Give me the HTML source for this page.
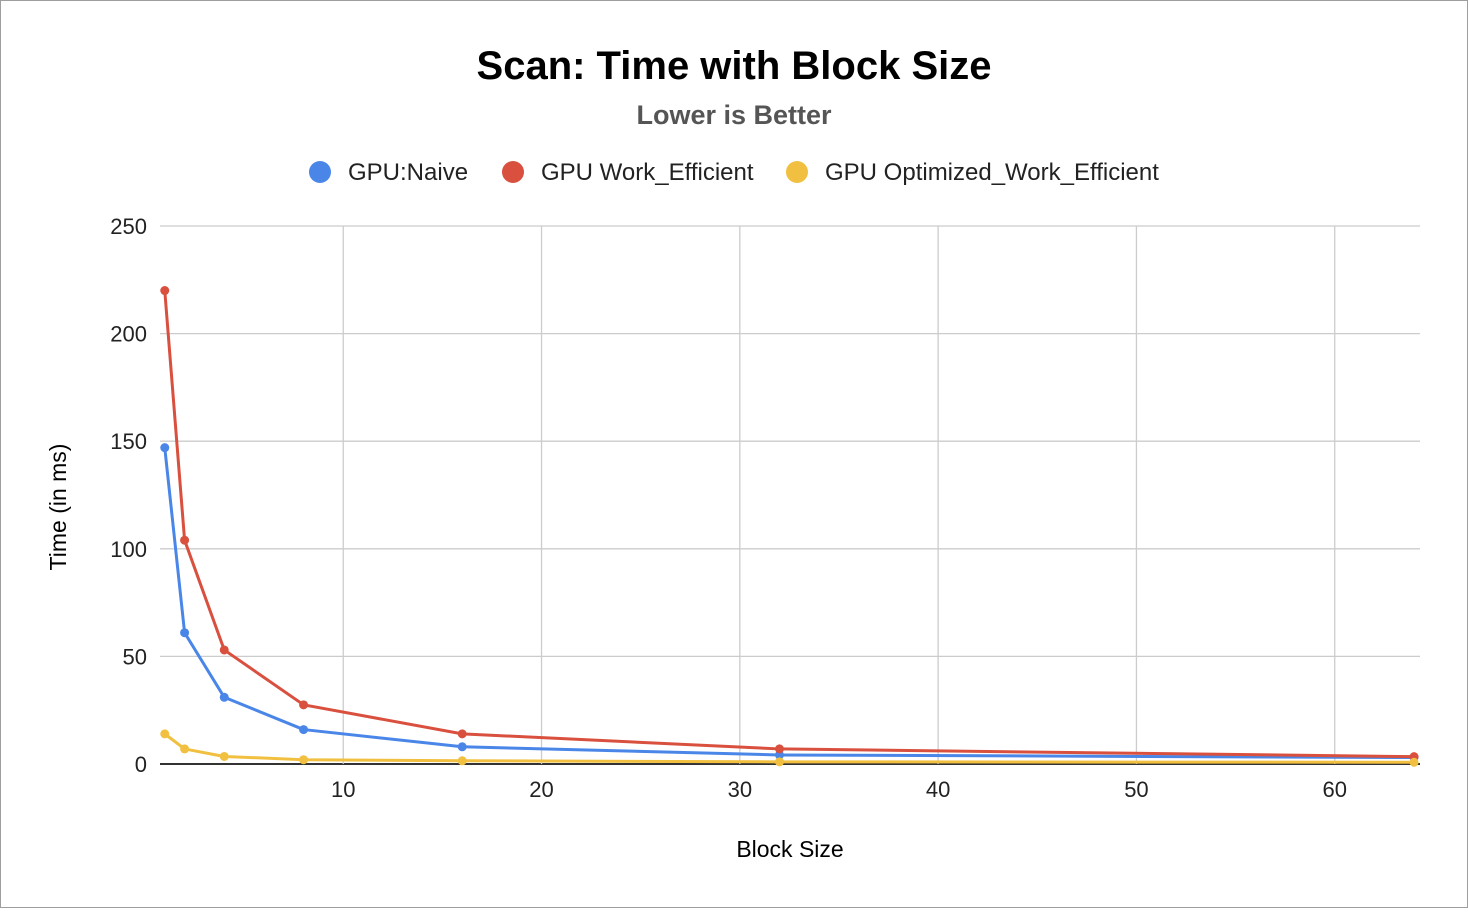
<!DOCTYPE html>
<html><head><meta charset="utf-8"><style>
body{margin:0;background:#fff;}
svg text{font-family:"Liberation Sans",Arial,sans-serif;}
</style></head><body>
<svg width="1468" height="908" id="chart">
<rect x="0.5" y="0.5" width="1467" height="907" fill="#fff" stroke="#9e9e9e"/>
<text x="734" y="79" text-anchor="middle" font-size="40" font-weight="bold" fill="#000">Scan: Time with Block Size</text>
<text x="734" y="124" text-anchor="middle" font-size="27" font-weight="bold" fill="#555">Lower is Better</text>
<g>
<circle cx="320" cy="172" r="11" fill="#4a86e8"/>
<text x="348" y="180" font-size="24" fill="#222">GPU:Naive</text>
<circle cx="513" cy="172" r="11" fill="#d9503f"/>
<text x="541" y="180" font-size="24" fill="#222">GPU Work_Efficient</text>
<circle cx="797" cy="172" r="11" fill="#f1c040"/>
<text x="825" y="180" font-size="24" fill="#222">GPU Optimized_Work_Efficient</text>
</g>
<g id="grid"></g><g id="series"></g>
<text transform="translate(66,507) rotate(-90)" text-anchor="middle" font-size="23" fill="#000">Time (in ms)</text>
<text x="790" y="857" text-anchor="middle" font-size="23" fill="#000">Block Size</text>
</svg>
<script>
const blockSizes=[1,2,4,8,16,32,64];
const naive=[147,61,31,16,8,4.2,3];
const workEfficient=[220,104,53,27.5,14,7,3.4];
const optimized=[14,7,3.5,2,1.5,1,0.8];
const yTicks=[0,50,100,150,200,250];
const xTicks=[10,20,30,40,50,60];
const NS='http://www.w3.org/2000/svg';
const L=160,R=1420,T=226,B=764,xMin=0.76,xMax=64.3,yMax=250;
const xs=v=>L+(v-xMin)/(xMax-xMin)*(R-L);
const ys=v=>B-v/yMax*(B-T);
function mk(tag,attrs,parent){const e=document.createElementNS(NS,tag);for(const k in attrs)e.setAttribute(k,attrs[k]);parent.appendChild(e);return e;}
const grid=document.getElementById('grid');
yTicks.forEach(t=>{
 const l=mk('line',{x1:L,x2:R,y1:ys(t),y2:ys(t),stroke:t===0?'#333':'#ccc','stroke-width':t===0?2:1.3},grid);
 
 
 const tx=mk('text',{x:147,y:ys(t)+8,'text-anchor':'end','font-size':22,fill:'#222'},grid);tx.textContent=t;
 
 
});
xTicks.forEach(t=>{
 const l=mk('line',{x1:xs(t),x2:xs(t),y1:T,y2:B,stroke:'#ccc','stroke-width':1.3},grid);
 
 
 const tx=mk('text',{x:xs(t),y:797,'text-anchor':'middle','font-size':22,fill:'#222'},grid);tx.textContent=t;
 
 
});
const sg=document.getElementById('series');
[[naive,'#4a86e8','naive'],[workEfficient,'#d9503f','work-efficient'],[optimized,'#f1c040','optimized']].forEach(([d,c,n])=>{
 const pts=d.map((v,i)=>xs(blockSizes[i])+','+ys(v)).join(' ');
 const p=mk('polyline',{points:pts,fill:'none',stroke:c,'stroke-width':3,'stroke-linejoin':'round'},sg);
 
 
 d.forEach((v,i)=>{
  const ci=mk('circle',{cx:xs(blockSizes[i]),cy:ys(v),r:4.5,fill:c},sg);
  
  
 });
});
</script>
</body></html>
